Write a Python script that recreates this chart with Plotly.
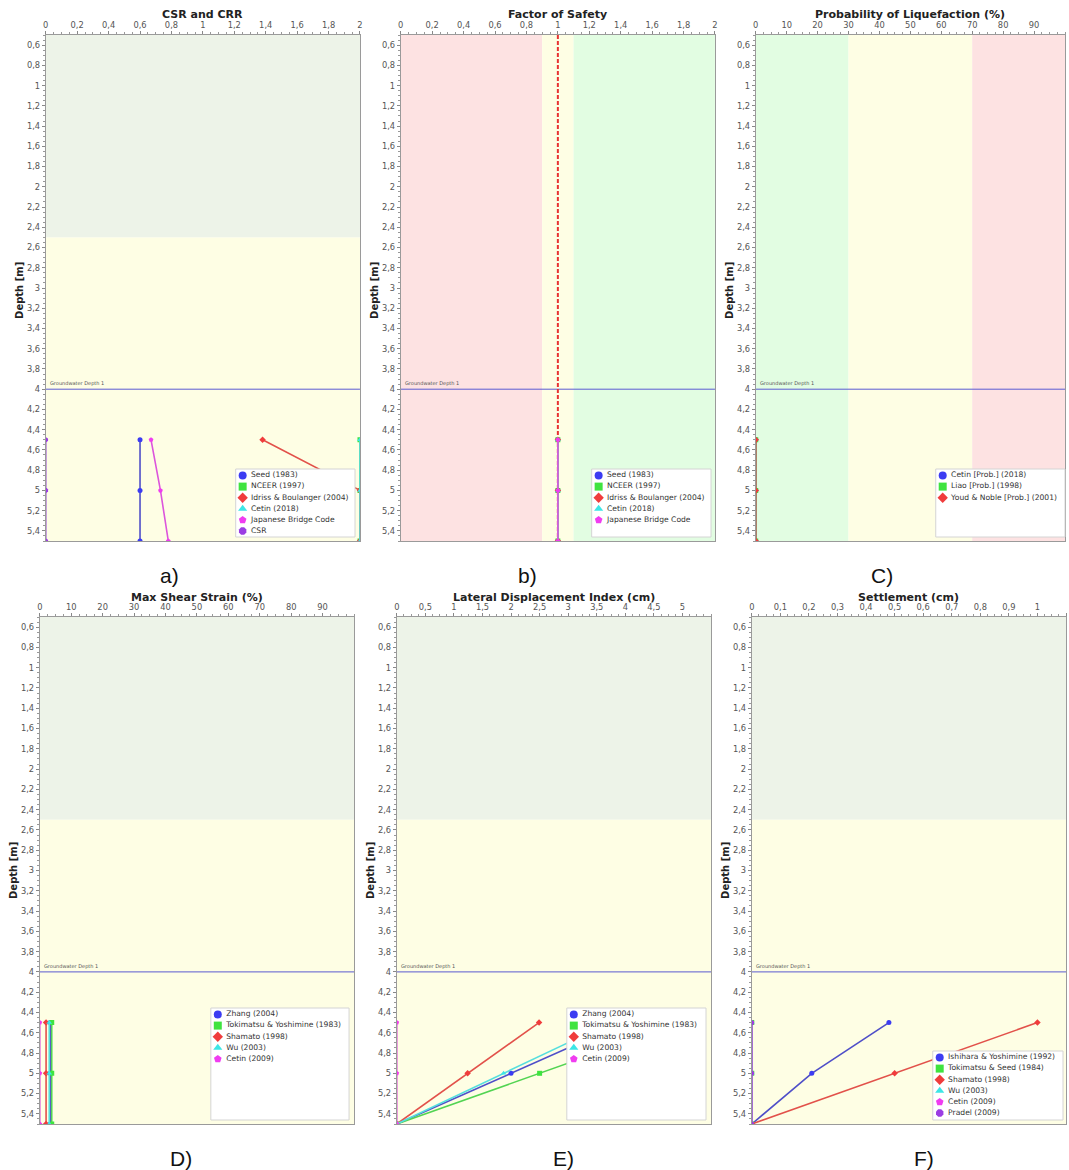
import plotly.graph_objects as go

W, H = 1069, 1170

# ---------------- data ----------------
depth = [4.5, 5.0, 5.5]
groundwater_depth = 4.0

# CSR and CRR
csr_seed = [0.6, 0.6, 0.6]
csr_nceer = [2.0, 2.0, 2.0]
csr_idriss = [1.38, 2.0, 2.0]
csr_cetin = [2.0, 2.0, 2.0]
csr_japanese = [0.67, 0.73, 0.78]
csr_csr = [0.0, 0.0, 0.0]

# Factor of safety
fs_seed = [1.0, 1.0, 1.0]
fs_nceer = [1.0, 1.0, 1.0]
fs_idriss = [1.0, 1.0, 1.0]
fs_cetin = [1.0, 1.0, 1.0]
fs_japanese = [1.0, 1.0, 1.0]

# Probability of liquefaction (%)
pl_cetin = [0.0, 0.0, 0.0]
pl_liao = [0.0, 0.0, 0.0]
pl_youd = [0.0, 0.0, 0.0]

# Max shear strain (%)
ss_zhang = [3.3, 3.3, 3.3]
ss_tokimatsu = [3.8, 3.8, 3.8]
ss_shamato = [2.0, 2.0, 2.0]
ss_wu = [3.0, 3.0, 3.0]
ss_cetin = [0.0, 0.0, 0.0]

# Lateral displacement index (cm)
ldi_zhang = [4.0, 2.0, 0.0]
ldi_tokimatsu = [5.0, 2.5, 0.0]
ldi_shamato = [2.49, 1.24, 0.0]
ldi_wu = [3.74, 1.87, 0.0]
ldi_cetin = [0.0, 0.0, 0.0]

# Settlement (cm)
st_ishihara = [0.48, 0.21, 0.0]
st_tokimatsu = [0.0, 0.0, 0.0]
st_shamato = [1.0, 0.5, 0.0]
st_wu = [0.0, 0.0, 0.0]
st_cetin = [0.0, 0.0, 0.0]
st_pradel = [0.0, 0.0, 0.0]

depth_ticks = [round(0.6 + 0.2 * i, 1) for i in range(25)]

# ---------------- styles ----------------
BLUE = dict(m="#3c3cf2", l="#4f4fc8", s="circle")
GREEN = dict(m="#3fe33f", l="#52d452", s="square")
RED = dict(m="#f03c3c", l="#e2514a", s="diamond")
CYAN = dict(m="#3de6e6", l="#55dede", s="triangle-up")
MAGENTA = dict(m="#f03cf0", l="#dc55dc", s="pentagon")
PURPLE = dict(m="#9b3de3", l="#9b55d8", s="octagon")

TOP_BAND = "#edf3e8"
YELLOW = "#fefee4"
PINK = "#fde2e2"
LGREEN = "#e2fde2"


def fmt(v):
    return f"{round(v, 4):g}".replace(".", ",")


panels = [
    dict(title="CSR and CRR", px=(43, 359), py=(35, 541), xr=[0, 2],
         ticks=[round(0.2 * i, 1) for i in range(11)], minor=0.05,
         bands="depth", ylab=(16, 290), tag=("a)", 167, 575),
         series=[("Seed (1983)", csr_seed, BLUE), ("NCEER (1997)", csr_nceer, GREEN),
                 ("Idriss & Boulanger (2004)", csr_idriss, RED), ("Cetin (2018)", csr_cetin, CYAN),
                 ("Japanese Bridge Code", csr_japanese, MAGENTA), ("CSR", csr_csr, PURPLE)],
         box=(234, 469, 354, 537)),
    dict(title="Factor of Safety", px=(400, 716), py=(35, 541), xr=[0, 2],
         ticks=[round(0.2 * i, 1) for i in range(11)], minor=0.05,
         bands=[(0, 0.9, PINK), (0.9, 1.1, YELLOW), (1.1, 2, LGREEN)], ylab=(373, 290),
         tag=("b)", 527, 575),
         series=[("Seed (1983)", fs_seed, BLUE), ("NCEER (1997)", fs_nceer, GREEN),
                 ("Idriss & Boulanger (2004)", fs_idriss, RED), ("Cetin (2018)", fs_cetin, CYAN),
                 ("Japanese Bridge Code", fs_japanese, MAGENTA)],
         box=(592, 469, 712, 537), fsline=1.0),
    dict(title="Probability of Liquefaction (%)", px=(757, 1068), py=(35, 541), xr=[0, 100],
         ticks=list(range(0, 100, 10)), minor=2.5,
         bands=[(0, 30, LGREEN), (30, 70, YELLOW), (70, 100, PINK)], ylab=(730, 290),
         tag=("C)", 884, 575),
         series=[("Cetin [Prob.] (2018)", pl_cetin, BLUE), ("Liao [Prob.] (1998)", pl_liao, GREEN),
                 ("Youd & Noble [Prob.] (2001)", pl_youd, RED)],
         box=(938, 469, 1068, 537)),
    dict(title="Max Shear Strain (%)", px=(37, 353), py=(617, 1124), xr=[0, 100],
         ticks=list(range(0, 100, 10)), minor=2.5,
         bands="depth", ylab=(10, 870), tag=("D)", 179, 1158),
         series=[("Zhang (2004)", ss_zhang, BLUE), ("Tokimatsu & Yoshimine (1983)", ss_tokimatsu, GREEN),
                 ("Shamato (1998)", ss_shamato, RED), ("Wu (2003)", ss_wu, CYAN),
                 ("Cetin (2009)", ss_cetin, MAGENTA)],
         box=(209, 1008, 348, 1120)),
    dict(title="Lateral Displacement Index (cm)", px=(396, 712), py=(617, 1124), xr=[0, 5.5],
         ticks=[round(0.5 * i, 1) for i in range(11)], minor=0.125,
         bands="depth", ylab=(369, 870), tag=("E)", 564, 1158),
         series=[("Zhang (2004)", ldi_zhang, BLUE), ("Tokimatsu & Yoshimine (1983)", ldi_tokimatsu, GREEN),
                 ("Shamato (1998)", ldi_shamato, RED), ("Wu (2003)", ldi_wu, CYAN),
                 ("Cetin (2009)", ldi_cetin, MAGENTA)],
         box=(567, 1008, 707, 1120)),
    dict(title="Settlement (cm)", px=(753, 1069), py=(617, 1124), xr=[0, 1.1],
         ticks=[round(0.1 * i, 1) for i in range(12)], minor=0.025,
         bands="depth", ylab=(726, 870), tag=("F)", 926, 1158),
         series=[("Ishihara & Yoshimine (1992)", st_ishihara, BLUE), ("Tokimatsu & Seed (1984)", st_tokimatsu, GREEN),
                 ("Shamato (1998)", st_shamato, RED), ("Wu (2003)", st_wu, CYAN),
                 ("Cetin (2009)", st_cetin, MAGENTA), ("Pradel (2009)", st_pradel, PURPLE)],
         box=(935, 1051, 1066, 1120)),
]

fig = go.Figure()
layout = dict(
    width=W, height=H, margin=dict(l=0, r=0, t=0, b=0),
    paper_bgcolor="white", plot_bgcolor="rgba(0,0,0,0)",
    showlegend=False, font=dict(family="DejaVu Sans", color="#444"),
)
shapes = []
annotations = []

tickfont = dict(size=8.3, color="#555", family="DejaVu Sans")

for i, p in enumerate(panels, start=1):
    xa = "x" if i == 1 else f"x{i}"
    ya = "y" if i == 1 else f"y{i}"
    x0, x1 = p["px"]
    y0, y1 = p["py"]
    layout[f"xaxis{i}"] = dict(
        domain=[x0 / W, x1 / W], range=p["xr"], side="top", anchor=ya,
        tickvals=p["ticks"], ticktext=[fmt(v) for v in p["ticks"]],
        ticks="outside", ticklen=3, tickcolor="#888", tickfont=tickfont,
        showline=True, linecolor="#9a9a9a", linewidth=1, mirror=True,
        showgrid=False, zeroline=False, fixedrange=True,
        minor=dict(ticks="outside", ticklen=2, dtick=p["minor"], tick0=0,
                   tickcolor="#999", showgrid=False),
    )
    layout[f"yaxis{i}"] = dict(
        domain=[1 - y1 / H, 1 - y0 / H], range=[5.5, 0.5], anchor=xa,
        tickvals=depth_ticks, ticktext=[fmt(v) for v in depth_ticks],
        ticks="outside", ticklen=3, tickcolor="#888", tickfont=tickfont,
        showline=True, linecolor="#9a9a9a", linewidth=1, mirror=True,
        showgrid=False, zeroline=False, fixedrange=True,
        minor=dict(ticks="outside", ticklen=2, dtick=0.05, tick0=0,
                   tickcolor="#999", showgrid=False),
    )

    # background zones
    if p["bands"] == "depth":
        shapes.append(dict(type="rect", xref=xa, yref=ya, x0=p["xr"][0], x1=p["xr"][1],
                           y0=0.5, y1=2.5, fillcolor=TOP_BAND, line_width=0, layer="below"))
        shapes.append(dict(type="rect", xref=xa, yref=ya, x0=p["xr"][0], x1=p["xr"][1],
                           y0=2.5, y1=5.5, fillcolor=YELLOW, line_width=0, layer="below"))
    else:
        for b0, b1, col in p["bands"]:
            shapes.append(dict(type="rect", xref=xa, yref=ya, x0=b0, x1=b1,
                               y0=0.5, y1=5.5, fillcolor=col, line_width=0, layer="below"))

    # groundwater table
    shapes.append(dict(type="line", xref=xa, yref=ya, x0=p["xr"][0], x1=p["xr"][1],
                       y0=groundwater_depth, y1=groundwater_depth,
                       line=dict(color="#5a5ad2", width=1), layer="below"))
    annotations.append(dict(text="Groundwater Depth 1", xref=xa, yref=ya, x=p["xr"][0],
                            y=groundwater_depth, xanchor="left", yanchor="bottom",
                            xshift=2, showarrow=False,
                            font=dict(size=5, color="#555", family="DejaVu Sans")))

    if "fsline" in p:
        shapes.append(dict(type="line", xref=xa, yref=ya, x0=p["fsline"], x1=p["fsline"],
                           y0=0.5, y1=5.5, line=dict(color="#e83232", width=2, dash="4px,2px"),
                           layer="below"))

    # series
    for name, vals, st in p["series"]:
        fig.add_trace(go.Scatter(
            x=vals, y=depth, xaxis=xa, yaxis=ya, mode="lines+markers", name=name,
            line=dict(color=st["l"], width=1.6),
            marker=dict(symbol=st["s"], size=5, color=st["m"], line=dict(width=0)),
            cliponaxis=True, hoverinfo="skip",
        ))

    # titles and labels
    annotations.append(dict(text=f"<b>{p['title']}</b>", xref="paper", yref="paper",
                            x=(x0 + x1) / 2 / W, y=1 - (y0 - 20) / H, xanchor="center",
                            yanchor="middle", showarrow=False,
                            font=dict(size=11, color="#222", family="DejaVu Sans")))
    lx, ly = p["ylab"]
    annotations.append(dict(text="<b>Depth [m]</b>", xref="paper", yref="paper",
                            x=lx / W, y=1 - ly / H, xanchor="center", yanchor="middle",
                            textangle=-90, showarrow=False,
                            font=dict(size=10, color="#222", family="DejaVu Sans")))
    t, tx, ty = p["tag"]
    annotations.append(dict(text=t, xref="paper", yref="paper", x=tx / W, y=1 - ty / H,
                            xanchor="center", yanchor="middle", showarrow=False,
                            font=dict(size=21, color="#111", family="Liberation Sans")))

# Legend boxes live on a page-wide helper subplot in pixel units,
# which is drawn after the six panels so the boxes sit over the curves.
LG = 7
layout[f"xaxis{LG}"] = dict(domain=[0, 1], range=[0, W], visible=False, fixedrange=True, anchor=f"y{LG}")
layout[f"yaxis{LG}"] = dict(domain=[0, 1], range=[H, 0], visible=False, fixedrange=True, anchor=f"x{LG}")

for p in panels:
    bx0, by0, bx1, by1 = p["box"]
    shapes.append(dict(type="rect", xref=f"x{LG}", yref=f"y{LG}", x0=bx0, x1=bx1, y0=by0, y1=by1,
                       fillcolor="white", line=dict(color="#d4d4d4", width=1), layer="below"))
    for k, (name, _, st) in enumerate(p["series"]):
        fig.add_trace(go.Scatter(
            x=[bx0 + 7], y=[by0 + 6.5 + 11.1 * k], xaxis=f"x{LG}", yaxis=f"y{LG}",
            mode="markers+text", text=[" " + name], textposition="middle right",
            textfont=dict(size=7.6, color="#333", family="DejaVu Sans"),
            marker=dict(symbol=st["s"], size=8, color=st["m"], line=dict(width=0)),
            hoverinfo="skip", cliponaxis=False,
        ))

layout["shapes"] = shapes
layout["annotations"] = annotations
fig.update_layout(**layout)
fig.write_html("out.html")
